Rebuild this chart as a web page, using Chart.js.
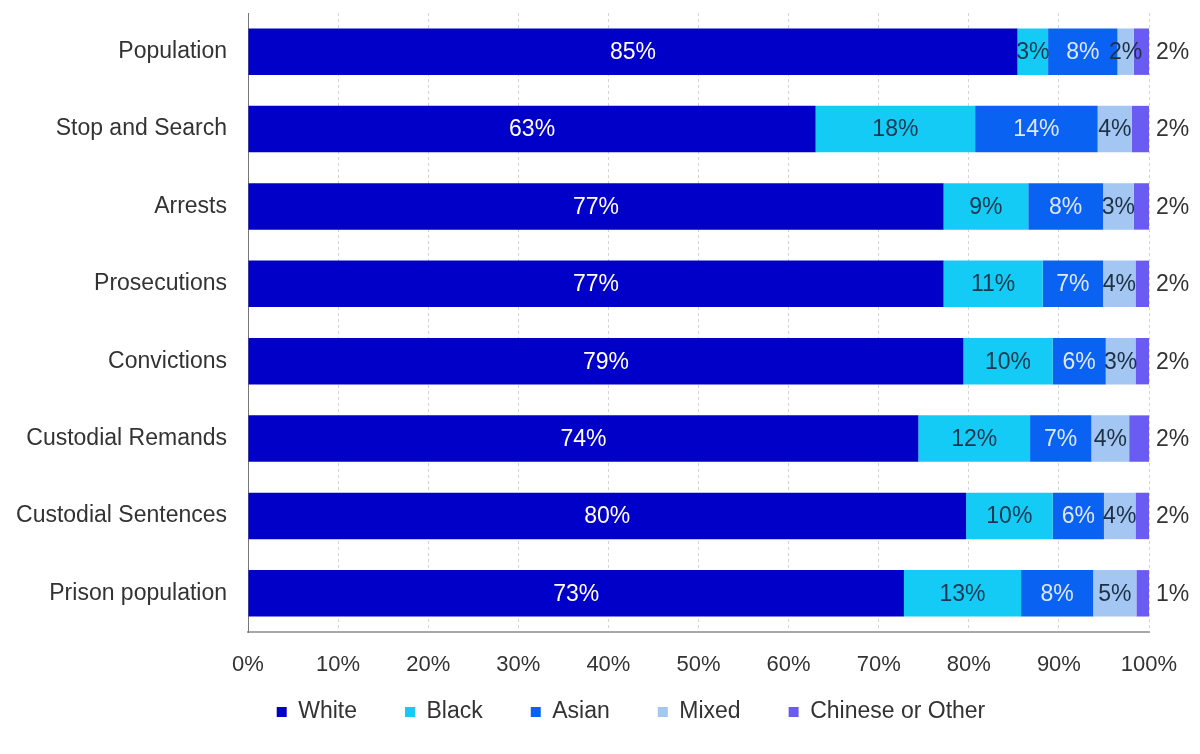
<!DOCTYPE html>
<html>
<head>
<meta charset="utf-8">
<script src="https://cdn.jsdelivr.net/npm/chart.js@4"></script>
<style>
  html, body { margin: 0; padding: 0; background: #fff; }
  #wrap { width: 1200px; height: 754px; }
</style>
</head>
<body>
<div id="wrap"><canvas id="barChart" width="1200" height="754"></canvas></div>
<script>
const categories = ['Population', 'Stop and Search', 'Arrests', 'Prosecutions', 'Convictions',
  'Custodial Remands', 'Custodial Sentences', 'Prison population'];

const white  = [85.4, 63.0, 77.2, 77.2, 79.4, 74.4, 79.7, 72.8];
const black  = [3.4, 17.7, 9.4, 11.0, 9.9, 12.4, 9.6, 13.0];
const asian  = [7.7, 13.6, 8.3, 6.7, 5.9, 6.8, 5.7, 8.0];
const mixed  = [1.8, 3.8, 3.4, 3.6, 3.3, 4.2, 3.5, 4.8];
const other  = [1.7, 1.9, 1.7, 1.5, 1.5, 2.2, 1.5, 1.4];

const xTicks = [0, 10, 20, 30, 40, 50, 60, 70, 80, 90, 100];

const FONT = '"Liberation Sans", Arial, sans-serif';
const labelColors = ['#ffffff', '#1b3650', '#dde8ff', '#1e3044', '#333333'];

// percentage labels: centred in each segment, last series outside the bar
const valueLabels = {
  id: 'valueLabels',
  afterDatasetsDraw(chart) {
    const ctx = chart.ctx;
    const last = chart.data.datasets.length - 1;
    ctx.save();
    ctx.font = '23px ' + FONT;
    ctx.textBaseline = 'middle';
    chart.data.datasets.forEach((ds, i) => {
      const meta = chart.getDatasetMeta(i);
      meta.data.forEach((bar, j) => {
        const text = Math.round(ds.data[j]) + '%';
        ctx.fillStyle = labelColors[i];
        if (i === last) {
          ctx.textAlign = 'left';
          ctx.fillText(text, bar.x + 7, bar.y + 1);
        } else {
          ctx.textAlign = 'center';
          ctx.fillText(text, (bar.x + bar.base) / 2, bar.y + 1);
        }
      });
    });
    ctx.restore();
  }
};

// keep the wide legend item spacing, but place the legend where the reference has it
const LEGEND_PAD = 48;
const LEGEND_FONT = 23;
const legendPlace = {
  id: 'legendPlace',
  beforeLayout(chart) {
    const legend = chart.legend;
    if (!legend || legend._patched) return;
    const fit = legend.fit;
    legend.fit = function () {
      fit.call(this);
      this.height = 62;
    };
    legend._patched = true;
  },
  afterLayout(chart) {
    const legend = chart.legend;
    if (!legend) return;
    const top = 712 - LEGEND_PAD - LEGEND_FONT / 2;
    legend.top = top;
    legend.bottom = chart.height;
    legend.height = chart.height - top;
    legend.left = 31;
    legend.right = chart.width + 31;
  }
};

new Chart(document.getElementById('barChart').getContext('2d'), {
  type: 'bar',
  data: {
    labels: categories,
    datasets: [
      { label: 'White', data: white, backgroundColor: '#0000c8' },
      { label: 'Black', data: black, backgroundColor: '#14cbf5' },
      { label: 'Asian', data: asian, backgroundColor: '#0a62f2' },
      { label: 'Mixed', data: mixed, backgroundColor: '#a3c6f2' },
      { label: 'Chinese or Other', data: other, backgroundColor: '#6a5cf2' }
    ]
  },
  options: {
    indexAxis: 'y',
    responsive: false,
    animation: false,
    layout: { padding: { top: 13, right: 51, bottom: 0, left: 0 } },
    datasets: {
      bar: { barPercentage: 0.6, categoryPercentage: 1, borderWidth: 0 }
    },
    scales: {
      x: {
        stacked: true,
        min: 0,
        max: 100,
        afterBuildTicks: (scale) => { scale.ticks = xTicks.map(v => ({ value: v })); },
        afterFit: (scale) => { scale.height = 60; },
        grid: { color: '#d4d4d4', drawTicks: false },
        border: { color: '#a8a8a8', width: 2, dash: [3, 3] },
        ticks: {
          padding: 20,
          color: '#333',
          font: { family: FONT, size: 22 },
          callback: (v) => v + '%'
        }
      },
      y: {
        stacked: true,
        afterFit: (scale) => {
          scale.width = 248;
          scale.paddingTop = 0;
          scale.paddingBottom = 0;
        },
        grid: { display: false, drawTicks: false },
        border: { color: '#777', width: 1 },
        ticks: {
          padding: 21,
          color: '#333',
          font: { family: FONT, size: 23 }
        }
      }
    },
    plugins: {
      legend: {
        position: 'bottom',
        labels: {
          boxWidth: 10,
          boxHeight: 10,
          padding: LEGEND_PAD,
          color: '#333',
          font: { family: FONT, size: LEGEND_FONT }
        }
      },
      tooltip: { enabled: false }
    }
  },
  plugins: [valueLabels, legendPlace]
});
</script>
</body>
</html>
